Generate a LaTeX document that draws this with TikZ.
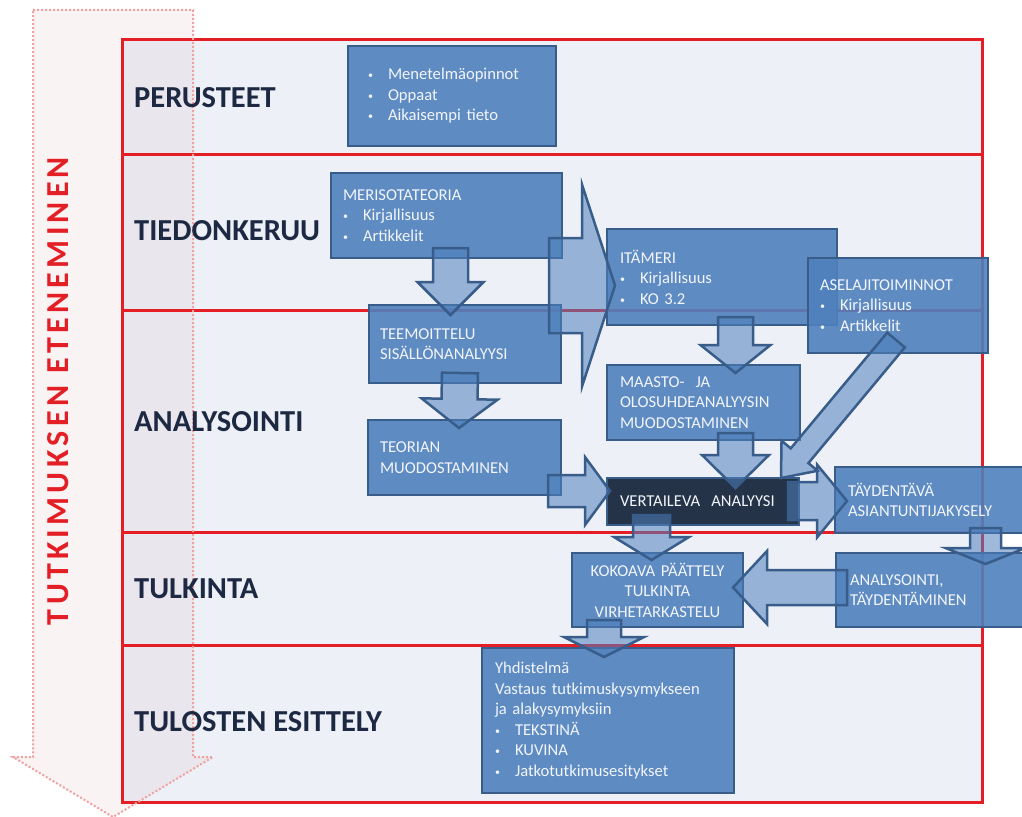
\documentclass[tikz,border=0pt]{standalone}
\usepackage{fontspec}
\setmainfont{Carlito}
\usetikzlibrary{calc}

\definecolor{bandbg}{HTML}{EDF0F7}
\definecolor{framered}{HTML}{E31E24}
\definecolor{boxblue}{HTML}{4F81BD}
\definecolor{boxedge}{HTML}{385D8A}
\definecolor{darkbox}{HTML}{1B2940}
\definecolor{labelnavy}{HTML}{1D2943}
\definecolor{dotpink}{HTML}{F2A0A0}
\definecolor{haze}{HTML}{D7AAB4}
\definecolor{boxtext}{HTML}{F2F5FB}

% small list bullet with a fixed indent
\newcommand\bul{\makebox[20pt][l]{\raisebox{1pt}{\fontsize{10}{10}\selectfont •}}}

% block arrow: #1 start, #2 tip, #3 half shaft width, #4 half head width, #5 head length
\newcommand\blockarrow[5]{%
  \coordinate (hb) at ($(#2)!#5pt!(#1)$);
  \filldraw[barrow] ($(#1)!#3pt!90:(#2)$) -- ($(hb)!#3pt!90:(#2)$) -- ($(hb)!#4pt!90:(#2)$)
     -- (#2) -- ($(hb)!#4pt!-90:(#2)$) -- ($(hb)!#3pt!-90:(#2)$) -- ($(#1)!#3pt!-90:(#2)$) -- cycle;
}

\tikzset{
  box/.style={rectangle, draw=boxedge, fill=boxblue, fill opacity=0.9, text opacity=1,
    line width=2.5pt, text=boxtext, font=\fontsize{16.6}{20.5}\selectfont, align=left,
    inner xsep=12pt, inner ysep=0pt},
  darkstep/.style={box, fill=darkbox, fill opacity=0.95},
  barrow/.style={draw=boxedge, fill=boxblue, fill opacity=0.55, line width=2.5pt, line join=miter},
  rowlabel/.style={anchor=base west, inner sep=0pt, text=labelnavy,
    font=\fontsize{30.5}{30.5}\selectfont\bfseries},
  redline/.style={draw=framered, line width=3pt},
}

\begin{document}
\begin{tikzpicture}[x=1pt, y=-1pt]
\useasboundingbox (0,0) rectangle (1022,816);
\clip (0,0) rectangle (1022,816);
\fill[white] (0,0) rectangle (1022,816);

% table background
\fill[bandbg] (122,40) rectangle (982,802);

% big dotted progress arrow
\path[fill=haze, fill opacity=0.14] (33,10) -- (193,10) -- (193,757) -- (213,757) -- (113,817) -- (13,757) -- (33,757) -- cycle;

% table frame and row separators
\draw[redline] (122,40) rectangle (982,802);
\foreach \yy in {154,310,532,645} \draw[redline] (122,\yy) -- (982,\yy);

\draw[dotpink, line width=2pt, dash pattern=on 2pt off 2pt] (33,10) -- (193,10) -- (193,757) -- (213,757) -- (113,817) -- (13,757) -- (33,757) -- cycle;

\node[rotate=90, inner sep=0pt, text=framered, font=\fontsize{32}{32}\selectfont\bfseries] (progress) at (58,391)
  {\hbox to 468pt{T\hfill U\hfill T\hfill K\hfill I\hfill M\hfill U\hfill K\hfill S\hfill E\hfill N\hfill\hfill\hfill E\hfill T\hfill E\hfill N\hfill E\hfill M\hfill I\hfill N\hfill E\hfill N}};

% row labels
\node[rowlabel] (l1) at (134,107) {PERUSTEET};
\node[rowlabel] (l2) at (134,240) {TIEDONKERUU};
\node[rowlabel] (l3) at (134,431) {ANALYSOINTI};
\node[rowlabel] (l4) at (134,598) {TULKINTA};
\node[rowlabel] (l5) at (134,731) {TULOSTEN ESITTELY};

% step boxes
\node[box, inner xsep=20pt, minimum width=208pt, minimum height=100pt, text width=168pt] (base) at (452,96)
  {\bul Menetelmäopinnot\\ \bul Oppaat\\ \bul Aikaisempi tieto};
\node[box, minimum width=231pt, minimum height=85pt, text width=207pt] (meri) at (446.5,215.5)
  {MERISOTATEORIA\\ \bul Kirjallisuus\\ \bul Artikkelit};
\node[box, minimum width=192pt, minimum height=78pt, text width=170pt, inner xsep=11pt] (teem) at (465,344)
  {TEEMOITTELU\\ SISÄLLÖNANALYYSI};
\node[box, minimum width=193pt, minimum height=75pt, text width=169pt] (teor) at (464.5,457.5)
  {TEORIAN\\ MUODOSTAMINEN};
\node[box, minimum width=230pt, minimum height=96pt, text width=204pt, inner xsep=13pt] (ita) at (722,277)
  {ITÄMERI\\ \bul Kirjallisuus\\ \bul KO 3.2};
\node[box, minimum width=193pt, minimum height=75pt, text width=167pt, inner xsep=13pt] (maasto) at (703.5,402.5)
  {MAASTO-\ \ JA\\ OLOSUHDEANALYYSIN\\ MUODOSTAMINEN};
\node[box, minimum width=180pt, minimum height=95pt, text width=156pt] (asel) at (898,305.5)
  {ASELAJITOIMINNOT\\ \bul Kirjallisuus\\ \bul Artikkelit};
\node[darkstep, minimum width=192pt, minimum height=47pt, text width=166pt, inner xsep=13pt] (vert) at (703,501.5)
  {VERTAILEVA\ \ ANALYYSI};
\node[box, minimum width=195pt, minimum height=66pt, text width=169pt, inner xsep=13pt] (tayd) at (932.5,500)
  {TÄYDENTÄVÄ\\ ASIANTUNTIJAKYSELY};
\node[box, minimum width=194pt, minimum height=74pt, text width=166pt, inner xsep=14pt] (analys) at (933,590)
  {ANALYSOINTI,\\ TÄYDENTÄMINEN};
\node[box, align=center, minimum width=171pt, minimum height=74pt, text width=151pt, inner xsep=10pt] (koko) at (657.5,590)
  {KOKOAVA PÄÄTTELY\\ TULKINTA\\ VIRHETARKASTELU};
\node[box, minimum width=252pt, minimum height=145pt, text width=226pt, inner xsep=13pt] (yhd) at (608,720.5)
  {Yhdistelmä\\ Vastaus tutkimuskysymykseen\\ ja alakysymyksiin\\ \bul TEKSTINÄ\\ \bul KUVINA\\ \bul Jatkotutkimusesitykset};

% arrow end points
\coordinate (m2t-s) at (450.5,248);  \coordinate (m2t-e) at (450.5,315);
\coordinate (t2t-s) at (460,373);    \coordinate (t2t-e) at (459,428);
\coordinate (t2v-s) at (548,491);    \coordinate (t2v-e) at (610,491);
\coordinate (m2i-s) at (549,285.5);  \coordinate (m2i-e) at (615,285.5);
\coordinate (i2m-s) at (735.5,317);  \coordinate (i2m-e) at (735.5,373);
\coordinate (m2v-s) at (735.5,433);  \coordinate (m2v-e) at (735.5,488);
\coordinate (a2v-s) at (896,340);    \coordinate (a2v-e) at (781,478);
\coordinate (v2t-s) at (788,501);    \coordinate (v2t-e) at (847,501);
\coordinate (t2a-s) at (985.5,528);  \coordinate (t2a-e) at (985.5,564);
\coordinate (a2k-s) at (847,587.5);  \coordinate (a2k-e) at (733,587.5);
\coordinate (v2k-s) at (651.5,515);  \coordinate (v2k-e) at (651.5,560);
\coordinate (k2y-s) at (604,620);    \coordinate (k2y-e) at (604,657);

% block arrows between the steps
\blockarrow{m2t-s}{m2t-e}{17.5}{33}{33}
\blockarrow{t2t-s}{t2t-e}{18}{38}{29}
\blockarrow{t2v-s}{t2v-e}{16}{34}{25}
\blockarrow{m2i-s}{m2i-e}{47.5}{101}{33}
\blockarrow{i2m-s}{i2m-e}{17.5}{35}{28}
\blockarrow{m2v-s}{m2v-e}{17.5}{33.5}{33}
\blockarrow{a2v-s}{a2v-e}{11.5}{23.5}{29}
\blockarrow{v2t-s}{v2t-e}{19}{36.5}{30}
\blockarrow{t2a-s}{t2a-e}{15.5}{40}{16}
\blockarrow{a2k-s}{a2k-e}{17.5}{36.5}{34}
\blockarrow{v2k-s}{v2k-e}{18.5}{37.5}{23}
\blockarrow{k2y-s}{k2y-e}{17}{40}{20}
\end{tikzpicture}
\end{document}
